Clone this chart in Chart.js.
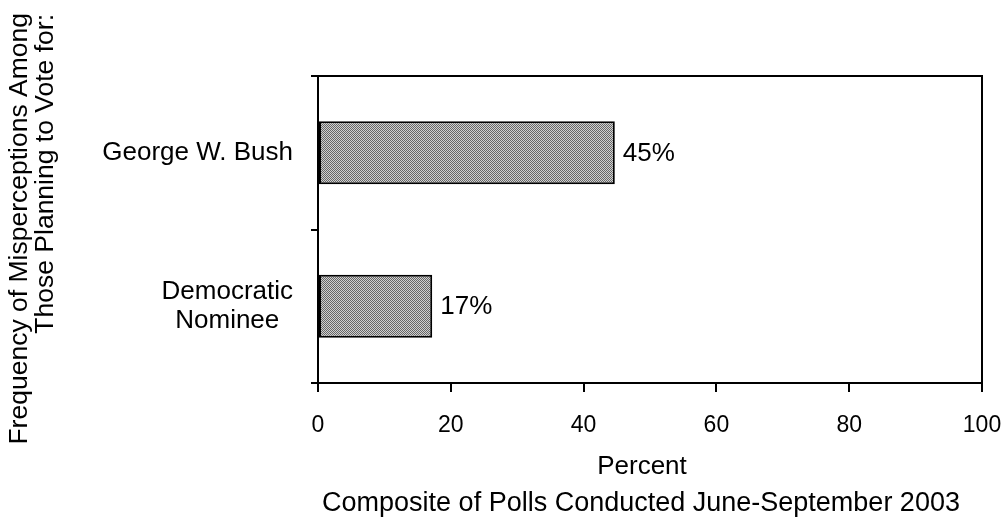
<!DOCTYPE html>
<html>
<head>
<meta charset="utf-8">
<script src="https://cdn.jsdelivr.net/npm/chart.js@4.4.0/dist/chart.umd.min.js"></script>
<style>
  html, body { margin: 0; padding: 0; background: #fff; }
  #wrap { width: 1002px; height: 518px; position: relative; }
</style>
</head>
<body>
<div id="wrap"><canvas id="c" width="1002" height="518"></canvas></div>
<script>
const categories = [["George W. Bush"], ["Democratic", "Nominee"]];
const values = [44.7, 17.2];
const valueLabels = ["45%", "17%"];
const xTicks = [0, 20, 40, 60, 80, 100];
const yTitleLines = ["Frequency of Misperceptions Among", "Those Planning to Vote for:"];
const xTitle = "Percent";
const footnote = "Composite of Polls Conducted June-September 2003";

const FONT = "'Liberation Sans', Arial, Helvetica, sans-serif";

function makePattern() {
  const p = document.createElement('canvas');
  p.width = 2; p.height = 2;
  const g = p.getContext('2d');
  g.fillStyle = '#d0d0d0'; g.fillRect(0, 0, 2, 2);
  g.fillStyle = '#666666'; g.fillRect(0, 0, 1, 1); g.fillRect(1, 1, 1, 1);
  return document.getElementById('c').getContext('2d').createPattern(p, 'repeat');
}

const decor = {
  id: 'decor',
  afterDraw(chart) {
    const ctx = chart.ctx;
    const a = chart.chartArea;
    const ys = chart.scales.y;
    ctx.save();
    // frame top/right
    ctx.strokeStyle = '#000'; ctx.lineWidth = 2;
    ctx.beginPath();
    ctx.moveTo(a.left, a.top); ctx.lineTo(a.right, a.top); ctx.lineTo(a.right, a.bottom);
    ctx.stroke();
    ctx.fillStyle = '#000';
    // value labels
    ctx.font = '26px ' + FONT;
    const meta = chart.getDatasetMeta(0);
    ctx.textAlign = 'left'; ctx.textBaseline = 'middle';
    meta.data.forEach((bar, i) => {
      ctx.fillText(valueLabels[i], bar.x + 8, bar.y + 1);
    });
    // category labels (lines centred within block, block right-aligned)
    categories.forEach((lines, i) => {
      const cy = ys.getPixelForTick(i);
      const lh = 28.5;
      const w = Math.max(...lines.map(l => ctx.measureText(l).width));
      const right = a.left - 25;
      const cx = right - w / 2;
      ctx.textAlign = 'center';
      lines.forEach((l, j) => {
        ctx.fillText(l, cx, cy + (j - (lines.length - 1) / 2) * lh);
      });
    });
    // y title (rotated)
    ctx.save();
    ctx.font = '26.5px ' + FONT;
    ctx.rotate(-Math.PI / 2);
    ctx.textAlign = 'right';
    ctx.textBaseline = 'middle';
    ctx.fillText(yTitleLines[0], -13, 20);
    ctx.fillText(yTitleLines[1], -14, 46);
    ctx.restore();
    // bottom titles
    ctx.textAlign = 'center'; ctx.textBaseline = 'middle';
    ctx.font = '26px ' + FONT;
    ctx.fillText(xTitle, 642, 467);
    ctx.font = '27px ' + FONT;
    ctx.fillText(footnote, 641, 504);
    ctx.restore();
  }
};

new Chart(document.getElementById('c'), {
  type: 'bar',
  data: {
    labels: categories,
    datasets: [{
      data: values,
      backgroundColor: makePattern(),
      borderColor: '#000',
      borderWidth: 2,
      borderSkipped: false,
      barPercentage: 0.41,
      categoryPercentage: 1.0
    }]
  },
  options: {
    indexAxis: 'y',
    responsive: false,
    animation: false,
    devicePixelRatio: 1,
    layout: { padding: { left: 0, right: 20, top: 76, bottom: 0 } },
    plugins: { legend: { display: false }, tooltip: { enabled: false }, title: { display: false } },
    scales: {
      x: {
        type: 'linear',
        min: 0, max: 100,
        afterFit(s) { s.height = 135; s.paddingRight = 0; s.paddingLeft = 0; },
        afterBuildTicks(s) { s.ticks = xTicks.map(v => ({ value: v })); },
        grid: { drawOnChartArea: false, drawTicks: true, tickLength: 9, color: '#000', lineWidth: 2 },
        border: { display: true, color: '#000', width: 2 },
        ticks: { color: '#000', font: { family: FONT, size: 23 }, padding: 20, maxRotation: 0 }
      },
      y: {
        type: 'category',
        offset: true,
        afterFit(s) { s.width = 318; s.paddingTop = 0; s.paddingBottom = 0; },
        grid: { offset: true, drawOnChartArea: false, drawTicks: true, tickLength: 7, color: '#000', lineWidth: 2 },
        border: { display: true, color: '#000', width: 2 },
        ticks: { display: false }
      }
    }
  },
  plugins: [decor]
});
</script>
</body>
</html>
